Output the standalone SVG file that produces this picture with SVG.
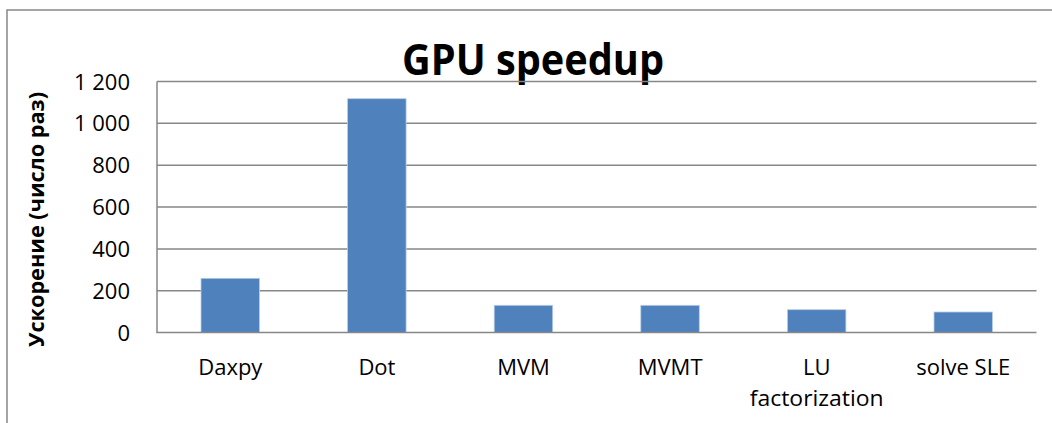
<svg xmlns="http://www.w3.org/2000/svg" width="1052" height="423" viewBox="0 0 1052 423">
  <style>
    .grid { stroke: #878787; stroke-width: 1.5; fill: none; }
    .bar { fill: #4F81BD; stroke: #B9CDE5; stroke-width: 0.8; }
    .tick { font-family: "Open Sans", "Liberation Sans", sans-serif; font-size: 22px; fill: #000; text-anchor: end; }
    .cat { font-family: "Open Sans", "Liberation Sans", sans-serif; font-size: 22px; fill: #000; text-anchor: middle; }
    .title { font-family: "Open Sans", "Liberation Sans", sans-serif; font-size: 43px; font-weight: bold; fill: #000; text-anchor: middle; }
    .ytitle { font-family: "Open Sans", "Liberation Sans", sans-serif; font-size: 22px; font-weight: bold; fill: #000; text-anchor: middle; }
  </style>
  <rect x="0" y="0" width="1052" height="423" fill="#ffffff"/>
  <g id="chart-border">
    <rect x="7" y="10" width="1100" height="500" fill="#ffffff" stroke="#888888" stroke-width="1.5"/>
  </g>
  <g id="title">
    <text class="title" x="533" y="75" textLength="262" lengthAdjust="spacingAndGlyphs">GPU speedup</text>
  </g>
  <g id="gridlines">
    <line class="grid" x1="157" y1="81.5" x2="1036.5" y2="81.5"/>
    <line class="grid" x1="157" y1="123.3" x2="1036.5" y2="123.3"/>
    <line class="grid" x1="157" y1="165.2" x2="1036.5" y2="165.2"/>
    <line class="grid" x1="157" y1="207" x2="1036.5" y2="207"/>
    <line class="grid" x1="157" y1="248.9" x2="1036.5" y2="248.9"/>
    <line class="grid" x1="157" y1="290.7" x2="1036.5" y2="290.7"/>
  </g>
  <g id="bars">
    <rect class="bar" x="201" y="278.3" width="58.5" height="54.2"/>
    <rect class="bar" x="347.6" y="98.7" width="58.5" height="233.8"/>
    <rect class="bar" x="494.2" y="305.3" width="58.5" height="27.2"/>
    <rect class="bar" x="640.8" y="305.3" width="58.5" height="27.2"/>
    <rect class="bar" x="787.4" y="309.7" width="58.5" height="22.8"/>
    <rect class="bar" x="934" y="312" width="58.5" height="20.5"/>
  </g>
  <g id="axes">
    <line class="grid" x1="157" y1="81.5" x2="157" y2="332.5"/>
    <line class="grid" x1="156.3" y1="332.5" x2="1036.5" y2="332.5"/>
  </g>
  <g id="y-ticks">
    <text class="tick" x="130" y="89.5">1 200</text>
    <text class="tick" x="130" y="131.3">1 000</text>
    <text class="tick" x="130" y="173.2">800</text>
    <text class="tick" x="130" y="215">600</text>
    <text class="tick" x="130" y="256.9">400</text>
    <text class="tick" x="130" y="298.7">200</text>
    <text class="tick" x="130" y="340.5">0</text>
  </g>
  <g id="x-labels">
    <text class="cat" x="230.3" y="375">Daxpy</text>
    <text class="cat" x="376.9" y="375">Dot</text>
    <text class="cat" x="523.5" y="375">MVM</text>
    <text class="cat" x="670.1" y="375">MVMT</text>
    <text class="cat" x="816.7" y="375">LU</text>
    <text class="cat" x="816.7" y="406" textLength="134" lengthAdjust="spacingAndGlyphs">factorization</text>
    <text class="cat" x="963.3" y="375">solve SLE</text>
  </g>
  <g id="y-title">
    <text class="ytitle" transform="translate(44 219.5) rotate(-90)" textLength="255" lengthAdjust="spacingAndGlyphs">Ускорение (число раз)</text>
  </g>
</svg>
